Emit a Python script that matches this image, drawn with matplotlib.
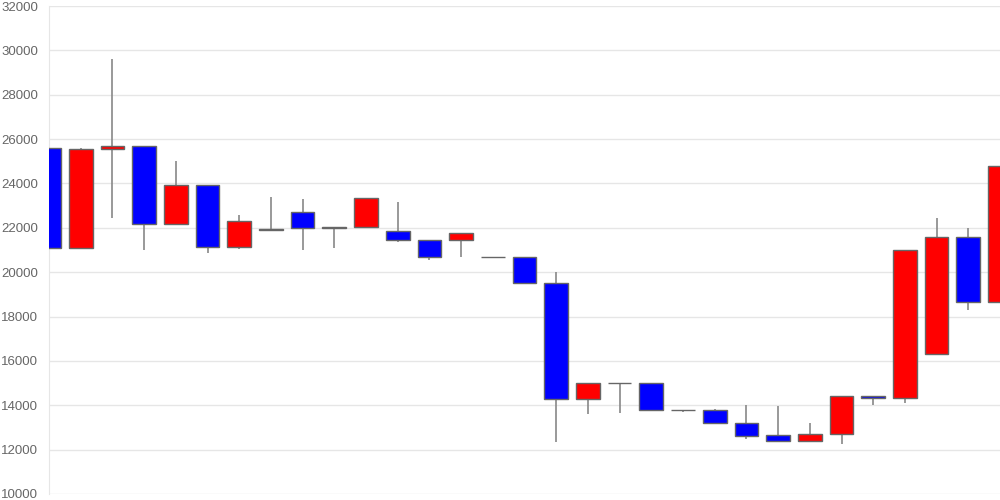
import matplotlib
matplotlib.use("Agg")
import matplotlib.pyplot as plt
import numpy as np

opens  = [25600, 21100, 25550, 25700, 22150, 23950, 21150, 21900, 22700, 22000,
          22050, 21850, 21450, 21450, 20700, 20700, 19500, 14300, 15000, 15000,
          13800, 13800, 13200, 12650, 12400, 12700, 14400, 14350, 16300, 21600, 18650]
closes = [21100, 25550, 25700, 22150, 23950, 21150, 22300, 21950, 22000, 22050,
          23350, 21450, 20700, 21750, 20700, 19500, 14300, 15000, 15000, 13800,
          13800, 13200, 12600, 12400, 12700, 14400, 14350, 21000, 21600, 18650, 24800]
highs  = [25700, 25600, 29600, 25700, 25000, 23950, 22600, 23400, 23300, 22050,
          23350, 23150, 21450, 21750, 20700, 20700, 20000, 15000, 15000, 15000,
          13800, 13850, 14000, 13950, 13200, 14400, 14400, 21000, 22450, 22000, 24800]
lows   = [20750, 21100, 22450, 21000, 22150, 20850, 21050, 21900, 21000, 21100,
          22050, 21350, 20550, 20700, 20700, 19500, 12350, 13600, 13650, 13800,
          13700, 13200, 12500, 12400, 12400, 12250, 14000, 14100, 16300, 18300, 18650]
yticks = [10000, 12000, 14000, 16000, 18000, 20000, 22000, 24000, 26000, 28000, 30000, 32000]

plt.rcParams['font.family'] = ['Liberation Sans', 'DejaVu Sans']
fig = plt.figure(figsize=(10, 5), dpi=100)
ax = fig.add_axes([0.049, 0.012, 0.951, 0.976])

x = np.arange(len(opens))
o = np.array(opens); c = np.array(closes)
colors = ['#ff0000' if cc > oo else '#0000ff' for oo, cc in zip(o, c)]
ax.vlines(x, lows, highs, color='#888888', linewidth=1.2, zorder=2)
bottoms = np.minimum(o, c)
heights = np.abs(c - o)
ax.bar(x, heights, bottom=bottoms, width=0.75, color=colors,
       edgecolor='#666666', linewidth=1.0, zorder=3)

ax.set_xlim(0, len(opens) - 1)
ax.set_ylim(10000, 32000)
ax.set_yticks(yticks)
ax.set_yticklabels([str(v) for v in yticks], color='#666666', fontsize=9.5)
ax.set_xticks([])
ax.grid(axis='y', color='#e6e6e6', linewidth=1.0, zorder=0)
ax.set_axisbelow(True)
for s in ['top', 'right', 'bottom']:
    ax.spines[s].set_visible(False)
ax.spines['left'].set_color('#e6e6e6')
ax.tick_params(axis='y', length=0, pad=8)

fig.savefig('out.png', dpi=100)
